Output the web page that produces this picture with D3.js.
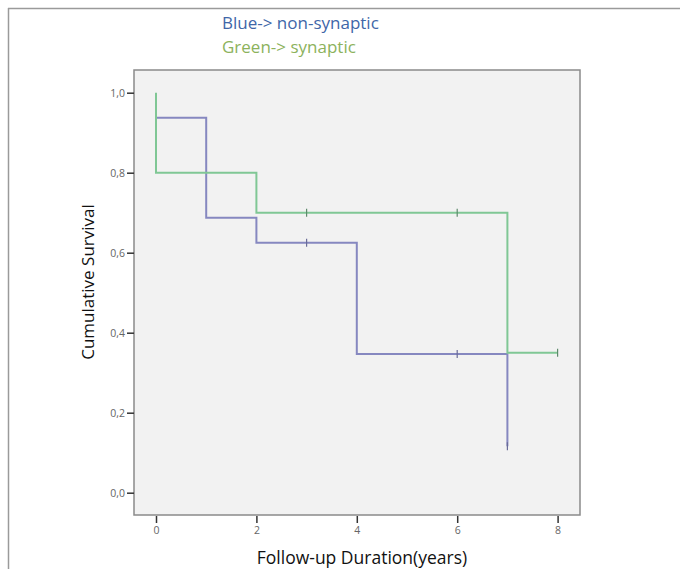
<!DOCTYPE html>
<html>
<head>
<meta charset="utf-8">
<script src="https://cdn.jsdelivr.net/npm/d3@7"></script>
<style>
  body { margin: 0; background: #fff; }
  svg text { font-family: "Open Sans", "Noto Sans", sans-serif; }
</style>
</head>
<body>
<div id="chart"></div>
<script>
// svg size
var svgWidth = 680;
var svgHeight = 569;

// plot area in pixels
var margin = { top: 70, right: 100, bottom: 54, left: 134 };
const width = svgWidth - margin.left - margin.right;
const height = svgHeight - margin.top - margin.bottom;

// survival data
// non-synaptic (blue)
const blueTimes = [0, 1, 2, 4, 7];
const blueSurv = [0.9375, 0.6875, 0.625, 0.347, 0.116];
const blueEnd = 7;
const blueCensorTimes = [3, 6, 7];
const blueCensorSurv = [0.625, 0.347, 0.116];

// synaptic (green)
const greenTimes = [0, 0, 2, 7];
const greenSurv = [1.0, 0.8, 0.7, 0.35];
const greenEnd = 8;
const greenCensorTimes = [3, 6, 8];
const greenCensorSurv = [0.7, 0.7, 0.35];

const xTicks = [0, 2, 4, 6, 8];
const yTicks = [0, 0.2, 0.4, 0.6, 0.8, 1.0];

const svg = d3.select("#chart")
  .append("svg")
  .attr("width", svgWidth)
  .attr("height", svgHeight);

// outer frame (top and left edges only)
svg.append("line").attr("x1", 8).attr("y1", 8.5).attr("x2", svgWidth).attr("y2", 8.5)
  .attr("stroke", "#9a9a9a").attr("stroke-width", 1.5);
svg.append("line").attr("x1", 8.5).attr("y1", 8).attr("x2", 8.5).attr("y2", svgHeight)
  .attr("stroke", "#9a9a9a").attr("stroke-width", 1.5);

// legend text
svg.append("text").attr("x", 222).attr("y", 29)
  .attr("fill", "#4066a8").attr("font-size", "17px")
  .text("Blue-> non-synaptic");
svg.append("text").attr("x", 222).attr("y", 53)
  .attr("fill", "#8cb25c").attr("font-size", "17px")
  .text("Green-> synaptic");

const chartGroup = svg.append("g")
  .attr("transform", `translate(${margin.left}, ${margin.top})`);

// scales
var xLinearScale = d3.scaleLinear().domain([0, 8]).range([22, 22 + 8 * 50.2]);
var yLinearScale = d3.scaleLinear().domain([0, 1]).range([422.7, 22.7]);

// plot background
chartGroup.append("rect")
  .attr("width", width).attr("height", height)
  .attr("fill", "#f2f2f2")
  .attr("stroke", "#8a8a8a").attr("stroke-width", 1.5);

// y axis
var leftAxis = d3.axisLeft(yLinearScale)
  .tickValues(yTicks).tickSize(7).tickPadding(2)
  .tickFormat(d => d3.format(".1f")(d).replace(".", ","));
var yAxis = chartGroup.append("g").call(leftAxis);
yAxis.select(".domain").remove();
yAxis.selectAll("line").attr("stroke", "#333").attr("stroke-width", 1.5);
yAxis.selectAll("text").attr("fill", "#666").attr("font-size", "10.5px");

// x axis
var bottomAxis = d3.axisBottom(xLinearScale)
  .tickValues(xTicks).tickSize(7).tickPadding(4);
var xAxis = chartGroup.append("g")
  .attr("transform", `translate(0, ${height + 1})`)
  .call(bottomAxis);
xAxis.select(".domain").remove();
xAxis.selectAll("line").attr("stroke", "#333").attr("stroke-width", 1.5);
xAxis.selectAll("text").attr("fill", "#666").attr("font-size", "10.5px");

// axis titles
chartGroup.append("text")
  .attr("x", 362 - margin.left).attr("y", height + 49)
  .attr("text-anchor", "middle").attr("font-size", "17.5px").attr("fill", "#111")
  .text("Follow-up Duration(years)");
chartGroup.append("text")
  .attr("transform", "rotate(-90)")
  .attr("x", -(282 - margin.top)).attr("y", 94 - margin.left)
  .attr("text-anchor", "middle").attr("font-size", "17px").attr("fill", "#111")
  .text("Cumulative Survival");

// step path builder
function stepPoints(times, surv, end) {
  var pts = [];
  times.forEach(function(t, i) {
    if (i > 0) pts.push([t, surv[i - 1]]);
    pts.push([t, surv[i]]);
  });
  pts.push([end, surv[surv.length - 1]]);
  return pts;
}

var line = d3.line()
  .x(d => xLinearScale(d[0]))
  .y(d => yLinearScale(d[1]));

chartGroup.append("path")
  .datum(stepPoints(blueTimes, blueSurv, blueEnd))
  .attr("fill", "none").attr("stroke", "#8688c0").attr("stroke-width", 2)
  .attr("d", line);

chartGroup.append("path")
  .datum(stepPoints(greenTimes, greenSurv, greenEnd))
  .attr("fill", "none").attr("stroke", "#80c795").attr("stroke-width", 2)
  .attr("d", line);

// censor marks
function censorMarks(times, surv, color) {
  chartGroup.selectAll(null)
    .data(times)
    .enter()
    .append("line")
    .attr("x1", d => xLinearScale(d)).attr("x2", d => xLinearScale(d))
    .attr("y1", (d, i) => yLinearScale(surv[i]) - 4)
    .attr("y2", (d, i) => yLinearScale(surv[i]) + 4)
    .attr("stroke", color).attr("stroke-width", 1.2);
}
censorMarks(blueCensorTimes, blueCensorSurv, "#6a6c98");
censorMarks(greenCensorTimes, greenCensorSurv, "#5e8a6c");
</script>
</body>
</html>
